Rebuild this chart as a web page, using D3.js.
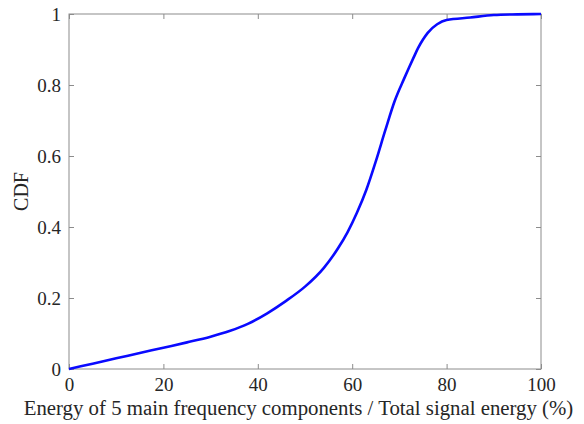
<!DOCTYPE html>
<html>
<head>
<meta charset="utf-8">
<script src="https://cdn.jsdelivr.net/npm/d3@7"></script>
<style>
  html, body { margin: 0; padding: 0; background: #fff; }
  svg { display: block; }
  text { font-family: "Liberation Serif", "DejaVu Serif", serif; fill: #262626; }
</style>
</head>
<body>
<svg id="chart" width="584" height="424"></svg>
<script>
// Energy share of the 5 main frequency components (%) and its CDF
const energyPct = [0, 5, 10, 15, 20, 25, 30, 34, 38, 42, 46, 50, 54, 57, 59, 61, 63, 65, 67, 69, 71, 72, 73, 74, 75, 76, 78, 80, 85, 90, 95, 100];
const cdfValues = [0, 0.015, 0.03, 0.045, 0.06, 0.075, 0.091, 0.107, 0.128, 0.157, 0.192, 0.232, 0.285, 0.34, 0.385, 0.44, 0.505, 0.585, 0.672, 0.755, 0.818, 0.848, 0.877, 0.905, 0.928, 0.947, 0.971, 0.983, 0.99, 0.997, 0.999, 1];
const xTicks = [0, 20, 40, 60, 80, 100];
const yTicks = [0, 0.2, 0.4, 0.6, 0.8, 1];
const xLabel = "Energy of 5 main frequency components / Total signal energy (%)";
const yLabel = "CDF";

const svg = d3.select("#chart");
const plotL = 69, plotR = 541, plotT = 14, plotB = 369;
const fontStack = "'Liberation Serif', 'DejaVu Serif', serif";

const x = d3.scaleLinear().domain([0, 100]).range([plotL, plotR]);
const y = d3.scaleLinear().domain([0, 1]).range([plotB, plotT]);

const axisColor = "#8c8c8c";
const tickLen = 5;

// Box frame
svg.append("rect")
  .attr("x", plotL).attr("y", plotT)
  .attr("width", plotR - plotL).attr("height", plotB - plotT)
  .attr("fill", "none").attr("stroke", axisColor).attr("stroke-width", 1);

function styleAxis(g) {
  g.attr("font-family", null);
  g.select(".domain").remove();
  g.selectAll(".tick line").attr("stroke", axisColor);
  g.selectAll(".tick text")
    .style("font-family", fontStack)
    .style("font-size", "19px").attr("fill", "#262626");
}

// Bottom and left axes with inward ticks
svg.append("g").attr("transform", `translate(0,${plotB})`)
  .call(d3.axisBottom(x).tickValues(xTicks).tickSizeInner(-tickLen).tickSizeOuter(0).tickPadding(9).tickFormat(d3.format("d")))
  .call(styleAxis);
svg.append("g").attr("transform", `translate(${plotL},0)`)
  .call(d3.axisLeft(y).tickValues(yTicks).tickSizeInner(-tickLen).tickSizeOuter(0).tickPadding(8).tickFormat(d => d === 0 || d === 1 ? String(d) : d3.format(".1f")(d)))
  .call(styleAxis);

// Mirrored ticks on top and right
svg.append("g").attr("transform", `translate(0,${plotT})`)
  .call(d3.axisTop(x).tickValues(xTicks).tickSizeInner(-tickLen).tickSizeOuter(0).tickFormat(""))
  .call(styleAxis);
svg.append("g").attr("transform", `translate(${plotR},0)`)
  .call(d3.axisRight(y).tickValues(yTicks).tickSizeInner(-tickLen).tickSizeOuter(0).tickFormat(""))
  .call(styleAxis);

// CDF curve
const line = d3.line()
  .x((d, i) => x(energyPct[i]))
  .y(d => y(d))
  .curve(d3.curveMonotoneX);

svg.append("path")
  .datum(cdfValues)
  .attr("d", line)
  .attr("fill", "none")
  .attr("stroke", "#0a0aff")
  .attr("stroke-width", 2.6)
  .attr("stroke-linejoin", "round");

// Axis titles
svg.append("text")
  .attr("x", 298.5).attr("y", 415)
  .attr("text-anchor", "middle")
  .style("font-family", fontStack)
  .style("font-size", "20.8px")
  .text(xLabel);

svg.append("text")
  .attr("transform", `translate(28,${(plotT + plotB) / 2}) rotate(-90)`)
  .attr("text-anchor", "middle")
  .style("font-family", fontStack)
  .style("font-size", "20px")
  .text(yLabel);
</script>
</body>
</html>
